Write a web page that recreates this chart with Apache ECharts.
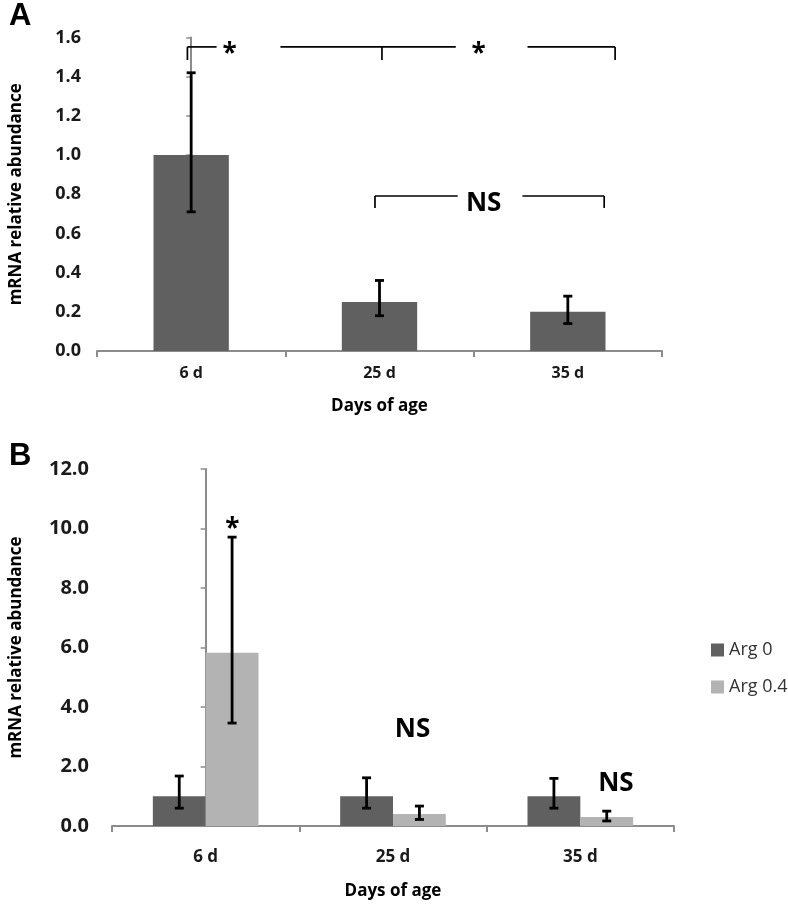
<!doctype html>
<html>
<head>
<meta charset="UTF-8">
<title>mRNA relative abundance</title>
<script src="https://cdn.jsdelivr.net/npm/echarts@6/dist/echarts.min.js"></script>
<style>
  html, body { margin: 0; padding: 0; background: #fff; }
  #main { width: 788px; height: 908px; }
</style>
</head>
<body>
<div id="main"></div>
<script>
// ---- data ----
var days = ['6 d', '25 d', '35 d'];

// panel A
var aMean  = [1.00, 0.25, 0.20];
var aUpper = [1.42, 0.36, 0.28];
var aLower = [0.71, 0.18, 0.14];

// panel B
var seriesNames = ['Arg 0', 'Arg 0.4'];
var bArg0Mean   = [1.00, 1.00, 1.00];
var bArg0Upper  = [1.68, 1.62, 1.60];
var bArg0Lower  = [0.60, 0.60, 0.60];
var bArg04Mean  = [5.82, 0.40, 0.30];
var bArg04Upper = [9.71, 0.67, 0.50];
var bArg04Lower = [3.46, 0.22, 0.17];

// significance marks (x in category units, 0 = first category centre)
var aBracketSegs = [
  [-0.02, 1.485, -0.02, 1.552], [-0.02, 1.552, 0.135, 1.552],
  [0.474, 1.552, 1.405, 1.552], [1.013, 1.552, 1.013, 1.485],
  [1.786, 1.552, 2.251, 1.552], [2.251, 1.552, 2.251, 1.485],
  [0.976, 0.730, 0.976, 0.791], [0.976, 0.791, 1.415, 0.791],
  [1.759, 0.791, 2.193, 0.791], [2.193, 0.791, 2.193, 0.730]
];
var aMarks = [['*', 0.204, 1.515], ['*', 1.526, 1.515], ['NS', 1.553, 0.752]];
var bMarks = [['*', 0.143, 9.95], ['NS', 1.104, 3.25], ['NS', 2.19, 1.42]];

var DARK = '#606060', LIGHT = '#b3b3b3', AXIS = '#8c8c8c';
var FONT = '"Open Sans", sans-serif';

function errData(lower, upper) {
  return days.map(function (d, i) { return [i, lower[i], upper[i]]; });
}

// error bar drawn around a bar; shift = offset in bar widths from category centre
function errRender(widthFrac, shift) {
  return function (params, api) {
    var band = api.size([1, 0])[0];
    var dx = band * widthFrac * shift;
    var lo = api.coord([api.value(0), api.value(1)]);
    var hi = api.coord([api.value(0), api.value(2)]);
    var x = lo[0] + dx, cap = 4.5;
    var st = { stroke: '#000', lineWidth: 2.8 };
    return {
      type: 'group',
      children: [
        { type: 'line', shape: { x1: x, y1: lo[1], x2: x, y2: hi[1] }, style: st },
        { type: 'line', shape: { x1: x - cap, y1: lo[1], x2: x + cap, y2: lo[1] }, style: st },
        { type: 'line', shape: { x1: x - cap, y1: hi[1], x2: x + cap, y2: hi[1] }, style: st }
      ]
    };
  };
}

function segRender(params, api) {
  var p1 = api.coord([api.value(0), api.value(1)]);
  var p2 = api.coord([api.value(2), api.value(3)]);
  return { type: 'line', shape: { x1: p1[0], y1: p1[1], x2: p2[0], y2: p2[1] },
           style: { stroke: '#000', lineWidth: 1.7 } };
}

function markRender(marks) {
  return function (params, api) {
    var m = marks[params.dataIndex];
    var p = api.coord([api.value(0), api.value(1)]);
    return { type: 'text', x: p[0], y: p[1],
             style: { text: m[0], fill: '#000', align: 'center', verticalAlign: 'middle',
                      font: 'bold 26px ' + FONT } };
  };
}

function catAxis(grid, labelMargin, nameGap, fs) {
  return {
    type: 'category', gridIndex: grid, data: days,
    axisLine: { lineStyle: { color: AXIS, width: 2 } },
    axisTick: { show: true, length: 6, lineStyle: { color: AXIS, width: 2 } },
    axisLabel: { margin: labelMargin, color: '#1a1a1a', fontSize: fs, fontWeight: 'bold', fontFamily: FONT },
    name: 'Days of age', nameLocation: 'middle', nameGap: nameGap,
    nameTextStyle: { color: '#000', fontSize: 17, fontWeight: 'bold', fontFamily: FONT }
  };
}

function valAxis(grid, max, interval, nameGap, labelMargin, fs) {
  return {
    type: 'value', gridIndex: grid, min: 0, max: max, interval: interval,
    axisLine: { show: true, lineStyle: { color: AXIS, width: 2 } },
    axisTick: { show: true, length: 5, lineStyle: { color: AXIS, width: 1.5 } },
    splitLine: { show: false },
    axisLabel: { margin: labelMargin, color: '#1a1a1a', fontSize: fs, fontWeight: 'bold', fontFamily: FONT,
                 formatter: function (v) { return v.toFixed(1); } },
    name: 'mRNA relative abundance', nameLocation: 'middle', nameGap: nameGap,
    nameTextStyle: { color: '#000', fontSize: 17, fontWeight: 'bold', fontFamily: FONT }
  };
}

function hiddenX(grid) {
  return { type: 'value', gridIndex: grid, min: -0.5, max: 2.5, show: false };
}

var myChart = echarts.init(document.getElementById('main'));

var option = {
  backgroundColor: '#fff',
  animation: false,
  title: [
    { text: 'A', left: 4, top: -4, textStyle: { fontSize: 31, fontWeight: 'bold', fontFamily: 'Liberation Sans', color: '#000' } },
    { text: 'B', left: 4, top: 436, textStyle: { fontSize: 31, fontWeight: 'bold', fontFamily: 'Liberation Sans', color: '#000' } }
  ],
  legend: {
    data: seriesNames, orient: 'vertical', left: 706, top: 636,
    icon: 'rect', itemWidth: 13, itemHeight: 13, itemGap: 19,
    textStyle: { fontSize: 18, color: '#333', fontFamily: FONT }
  },
  grid: [
    { left: 95, top: 37.5, width: 567, height: 313.5 },
    { left: 108, top: 469, width: 566, height: 357 }
  ],
  xAxis: [catAxis(0, 14, 47, 16), catAxis(1, 23, 57, 17), hiddenX(0), hiddenX(1)],
  yAxis: [valAxis(0, 1.6, 0.2, 72, 16, 18), valAxis(1, 12, 2, 87, 23, 20)],
  series: [
    { type: 'bar', xAxisIndex: 0, yAxisIndex: 0, data: aMean, barWidth: '40%',
      itemStyle: { color: DARK } },
    { type: 'custom', xAxisIndex: 0, yAxisIndex: 0, data: errData(aLower, aUpper),
      renderItem: errRender(0.4, 0), z: 5 },
    { type: 'custom', xAxisIndex: 2, yAxisIndex: 0, data: aBracketSegs, renderItem: segRender, z: 5 },
    { type: 'custom', xAxisIndex: 2, yAxisIndex: 0,
      data: aMarks.map(function (m) { return [m[1], m[2]]; }), renderItem: markRender(aMarks), z: 5 },

    { name: seriesNames[0], type: 'bar', xAxisIndex: 1, yAxisIndex: 1, data: bArg0Mean,
      barWidth: '28.2%', barGap: '0%', itemStyle: { color: DARK } },
    { name: seriesNames[1], type: 'bar', xAxisIndex: 1, yAxisIndex: 1, data: bArg04Mean,
      barWidth: '28.2%', barGap: '0%', itemStyle: { color: LIGHT } },
    { type: 'custom', xAxisIndex: 1, yAxisIndex: 1, data: errData(bArg0Lower, bArg0Upper),
      renderItem: errRender(0.282, -0.5), z: 5 },
    { type: 'custom', xAxisIndex: 1, yAxisIndex: 1, data: errData(bArg04Lower, bArg04Upper),
      renderItem: errRender(0.282, 0.5), z: 5 },
    { type: 'custom', xAxisIndex: 3, yAxisIndex: 1,
      data: bMarks.map(function (m) { return [m[1], m[2]]; }), renderItem: markRender(bMarks), z: 5 }
  ]
};

myChart.setOption(option);
</script>
</body>
</html>
